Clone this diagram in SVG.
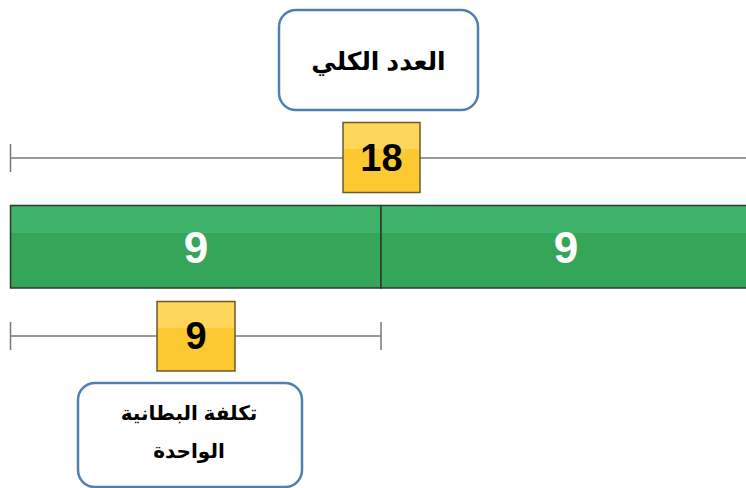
<svg xmlns="http://www.w3.org/2000/svg" width="746" height="488" viewBox="0 0 746 488">
<defs>
<linearGradient id="yel" x1="0" y1="0" x2="0" y2="1">
<stop offset="0" stop-color="#fed65a"/><stop offset="0.38" stop-color="#fed65a"/><stop offset="0.38" stop-color="#fdc930"/><stop offset="1" stop-color="#fdc930"/>
</linearGradient>
<linearGradient id="grn" x1="0" y1="0" x2="0" y2="1">
<stop offset="0" stop-color="#40b36a"/><stop offset="0.33" stop-color="#40b36a"/><stop offset="0.33" stop-color="#35a559"/><stop offset="1" stop-color="#35a559"/>
</linearGradient>
</defs>
<style>
.lbl{fill:#fff;stroke:#4f7fb3;stroke-width:2.5}
.lt{font-family:"Liberation Sans","DejaVu Sans",sans-serif;font-weight:bold;fill:#000;text-anchor:middle}
.yb{fill:url(#yel);stroke:#6b5a2e;stroke-width:1.5}
.num{font-family:"Liberation Sans",Arial,sans-serif;font-weight:bold;text-anchor:middle}
.ln{stroke:#777;stroke-width:1.5;fill:none}
.bar{fill:url(#grn);stroke:#2b3a2f;stroke-width:1.5}
</style>
<g id="connectors">
<line class="ln" x1="10.5" y1="158" x2="746" y2="158"/>
<line class="ln" x1="10.5" y1="144" x2="10.5" y2="172"/>
<line class="ln" x1="10.5" y1="336" x2="381" y2="336"/>
<line class="ln" x1="10.5" y1="322" x2="10.5" y2="350"/>
<line class="ln" x1="381" y1="322" x2="381" y2="350"/>
</g>
<g id="total-label">
<rect class="lbl" x="279" y="10" width="199" height="100" rx="17"/>
<text class="lt" x="378.5" y="70" font-size="25">العدد الكلي</text>
</g>
<g id="total-value">
<rect class="yb" x="343" y="122.5" width="77" height="70"/>
<text class="num" x="381.5" y="171" font-size="38" fill="#000">18</text>
</g>
<g id="bar-left">
<rect class="bar" x="10.5" y="205.5" width="370.5" height="82.5"/>
<text class="num" x="196" y="263" font-size="44" fill="#fff">9</text>
</g>
<g id="bar-right">
<rect class="bar" x="381" y="205.5" width="370" height="82.5"/>
<text class="num" x="566" y="263" font-size="44" fill="#fff">9</text>
</g>
<g id="unit-value">
<rect class="yb" x="157" y="301.5" width="78" height="69.5"/>
<text class="num" x="196" y="349" font-size="38" fill="#000">9</text>
</g>
<g id="unit-label">
<rect class="lbl" x="78" y="383" width="224" height="104" rx="17"/>
<text class="lt" x="189" y="420" font-size="20">تكلفة البطانية</text>
<text class="lt" x="189" y="458" font-size="20">الواحدة</text>
</g>
</svg>
